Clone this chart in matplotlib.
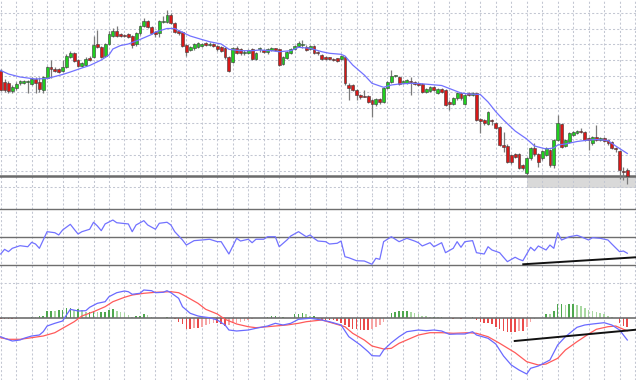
import numpy as np
import matplotlib
matplotlib.use("Agg")
import matplotlib.pyplot as plt
from matplotlib.patches import Rectangle

# ---------------- price candles (163 bars) ----------------
opens = [129, 118.5, 117, 109.3, 111.7, 116.7, 117.3, 118, 116, 121.5,
         118.3, 110.5, 122.5, 132.7, 131.5, 131, 129, 133, 143.5, 147,
         140.5, 134.5, 135.5, 141.7, 143, 156.2, 153.3, 144.5, 156.5, 164,
         169, 166, 165.5, 165.7, 164, 155.7, 166.7, 174, 179.3, 173.3,
         168.3, 166.7, 178.5, 178.3, 185, 177.3, 169, 168, 155, 150,
         151.7, 153.3, 154.5, 156.7, 155, 155.7, 154.5, 152.7, 152.3, 143,
         137.7, 152.3, 150.7, 147, 146.7, 150.7, 140.7, 151, 150, 147.7,
         150, 151.7, 150.7, 136, 141.7, 147.3, 150.7, 154, 155, 153.3,
         150.7, 154, 148.3, 145, 143.3, 142.7, 140.7, 141.7, 140.7, 143.3,
         115, 115, 110, 105, 104.5, 104, 100, 95.7, 101, 98,
         112, 118, 124, 123.3, 116.7, 117.3, 119, 118.3, 116.7, 116,
         108.3, 109.3, 112.7, 107, 110.7, 110, 98.5, 96, 101.7, 107.3,
         96, 106.7, 105, 106.7, 81, 80, 76, 80, 76.7, 73.3,
         55, 54.3, 45, 45.7, 45.7, 35, 26.7, 41.7, 51.7, 45.7,
         41.7, 45, 50, 35, 60, 75.7, 54.3, 58.3, 65, 66.7,
         69, 68.3, 61.7, 56.7, 63.3, 60, 61.7, 60, 57.7, 52.3,
         49, 29.5, 30]
highs = [131, 121.5, 119, 115, 118.3, 120, 120.5, 120, 123.5, 123,
         123.3, 124.3, 134.5, 140, 133.3, 132, 140, 146.5, 149, 148,
         141.5, 138.5, 143, 144, 164, 170, 154.5, 157.5, 169, 172.5,
         174, 167, 166.5, 167, 165, 168, 175, 181.7, 180.5, 174.5,
         169.5, 180.5, 184, 190, 187.3, 178.5, 170, 169, 156, 154.5,
         157, 158, 157.5, 158, 157.7, 157, 155.5, 153.7, 153.5, 144,
         153.3, 154, 152, 150, 151, 152, 148.5, 153.3, 151, 152,
         153.5, 152.5, 151.5, 144.5, 149.5, 152, 155.5, 159, 160, 155,
         155, 155, 149.5, 146, 144.5, 143.5, 142, 142.5, 145, 144.5,
         116.7, 116, 111, 106, 110, 105, 101.5, 102.5, 102, 113.5,
         119.5, 130.5, 125.5, 124.5, 120.5, 121, 123.3, 119.5, 118, 117,
         112, 114.5, 114, 112, 112, 111, 100, 103, 108.5, 108.5,
         106, 108, 108.5, 107.5, 82, 81, 89.5, 81.5, 78, 74.5,
         68.3, 56, 46, 47, 47, 36, 43.5, 53, 57, 47,
         50, 53, 51, 61, 85, 77, 61, 68, 69.5, 70,
         71.7, 69.5, 63.3, 64.5, 75, 63.5, 63, 61, 59, 53.5,
         50, 33.3, 31.7]
lows = [109, 108, 107, 107.5, 110, 115, 116, 106.7, 115, 107,
        108.5, 107, 121.5, 122, 128, 127, 128, 132, 142.5, 138.5,
        133, 133.5, 134.5, 139, 142, 152.5, 142.5, 143, 155.5, 163,
        163, 163, 163, 162.5, 151.7, 154.5, 165.5, 173, 172.5, 166,
        163.5, 163.5, 177.5, 177.5, 176.5, 167.5, 165.5, 153.5, 143.7, 149,
        150.5, 152.5, 153.5, 154, 154, 153, 149.5, 148.5, 140.7, 128,
        136.7, 146, 145.5, 145, 146, 139.7, 140, 148.3, 147.5, 146.5,
        149, 149, 134, 135, 141, 146.5, 150, 153, 151.7, 149,
        150, 146.5, 145.5, 139.7, 140, 140, 139, 138.5, 140, 115.5,
        100, 109, 100, 101.5, 103, 97, 83.5, 94.5, 96.5, 97,
        111, 117, 123, 115, 116, 116.5, 105, 115, 114.5, 107,
        107, 108, 109, 106, 107, 94, 90, 95, 100.5, 100.5,
        95, 104, 104, 79, 67, 75.5, 75, 75, 71, 54,
        48.3, 37, 36.5, 42, 31, 30.5, 25, 40.5, 44.5, 33.3,
        40.5, 44, 33.3, 31.7, 59, 52, 53.3, 57.5, 64, 66,
        67, 59, 50, 55.5, 59, 59, 58, 55.5, 51, 48,
        21, 20, 15.7]
closes = [110.5, 110, 109, 112.7, 116, 118.7, 119, 118.7, 121.5, 117.5,
          111, 123.3, 133.5, 131, 129.5, 128, 133.5, 144.5, 147, 139.5,
          134.5, 137, 141.5, 140, 155.5, 153.5, 143.5, 156.5, 166.5, 169,
          164, 164, 164, 163.5, 155.3, 166.7, 173.7, 179.3, 173.5, 167.3,
          166, 179.3, 179.2, 185, 177.5, 168.5, 166.7, 154.5, 148.5, 153.3,
          155.7, 156.7, 156.5, 155, 156.5, 154, 150.7, 149.5, 142.7, 129.3,
          151.7, 147.3, 146.7, 147.5, 150, 140.7, 147.3, 151.5, 148.3, 150.7,
          152.3, 150, 135, 143.3, 148.3, 150.7, 154, 157.3, 155.5, 150,
          154, 147.3, 146.7, 140.7, 140.7, 140.7, 140.3, 139.3, 144, 116.7,
          111.7, 110, 105, 102.7, 103.5, 98.3, 96, 101.5, 98, 112,
          118.5, 124.5, 124.5, 116, 119.3, 120, 118.5, 116, 115.3, 108.3,
          110.7, 113.3, 110, 110.7, 108.3, 95, 96, 101.7, 107.3, 101.7,
          105, 105, 107.3, 80, 79, 76.7, 88.3, 79, 72.3, 55,
          53.3, 38.3, 37.7, 43.3, 32.3, 31.7, 42.3, 51.7, 45.7, 38.3,
          49, 51.7, 35, 60, 76.7, 53.3, 60, 66.7, 68.3, 69,
          67.7, 60, 60, 63.3, 60, 62.3, 59, 56.7, 52.3, 51.5,
          30, 28.5, 24.3]

# moving average (blue line on price panel)
ma_idx = [0, 2, 5, 9, 12, 14, 16, 18, 21, 23, 26, 28, 29, 31, 33, 36, 39, 40, 43, 45,
          46, 49, 52, 54, 57, 59, 62, 65, 67, 70, 72, 75, 77, 80, 83, 85, 88, 89, 91, 94,
          96, 99, 101, 103, 106, 108, 111, 114, 116, 119, 121, 124, 126, 128, 130, 133, 136, 138, 141, 143,
          144, 146, 149, 152, 154, 157, 159, 162]
ma_val = [129.5, 126, 123, 121, 121.5, 123.5, 125.5, 128, 132, 134.5, 140, 145, 151, 154.5, 156, 160.5, 165.5, 168, 171.5, 171.5,
          169.5, 164, 160.5, 158.3, 156, 150.7, 149.3, 149.3, 150, 149.3, 148.3, 149.3, 152.7, 151.7, 148.3, 146.7, 145.7, 144, 135, 125,
          116.7, 112.7, 115, 116, 116.7, 116.5, 115.5, 114.5, 111.5, 107, 106, 105.5, 98, 88.3, 80, 69, 61, 54, 51, 52,
          55, 56, 58.5, 60, 60.5, 59.5, 54, 46.5]

support_level = 24.0
zone_start, zone_low, zone_high = 136, 12.3, 24.0

# ---------------- RSI ----------------
rsi_idx = [0, 1, 2, 3, 5, 7, 8, 9, 10, 12, 14, 15, 16, 18, 19, 20, 21, 23, 24, 25,
           26, 27, 29, 30, 33, 34, 35, 37, 38, 40, 41, 43, 44, 45, 47, 48, 50, 52, 54, 56,
           57, 59, 61, 62, 64, 65, 66, 68, 69, 71, 72, 74, 75, 77, 79, 80, 81, 82, 84, 85,
           87, 88, 89, 90, 92, 94, 96, 97, 98, 99, 101, 103, 105, 107, 108, 109, 111, 112, 114, 115,
           117, 118, 119, 120, 122, 123, 125, 126, 127, 129, 130, 131, 133, 134, 135, 137, 138, 139, 141, 142,
           143, 144, 145, 147, 149, 150, 152, 153, 155, 157, 158, 160, 161, 162]
rsi_val = [32.1, 37.1, 34.6, 38.2, 41, 39.9, 44.6, 42.8, 38.2, 56, 54.9, 52.5, 57.8, 63.9, 58.6, 53.5, 56, 58.6, 66.1, 62.1,
           57.1, 64.3, 68.5, 65.6, 64.3, 56, 63.2, 67.8, 63.2, 58.6, 65, 66.1, 63.2, 56, 47.1, 41.7, 46.4, 47.1, 47.9, 45.3,
           45.3, 32.1, 48.9, 46, 47.9, 44.2, 47.9, 47.9, 50.6, 50.6, 39.9, 47.1, 51.4, 56, 50.6, 52.5, 48.9, 46, 45.3, 42.8,
           43.6, 46, 29.2, 28.1, 24.9, 24.6, 21.1, 27.5, 26.4, 45.3, 50.6, 45.3, 48.9, 46, 44.2, 40.7, 44.2, 39.9, 44.2, 33.5,
           38.2, 45.3, 39.3, 45.3, 46.4, 33.5, 32.1, 39.9, 36.4, 33.5, 28.6, 23.9, 28.6, 26.4, 24.9, 39.3, 35.6, 40.7, 36.4, 41.7,
           38.2, 54.9, 47.1, 50.6, 52.1, 50.6, 47.1, 49.6, 48.9, 47.1, 42.8, 34.6, 35.3, 32.9]
rsi_levels = [80, 50, 20]
rsi_trend_idx = [135.1, 164.3]
rsi_trend_val = [21.1, 28.6]

# ---------------- MACD ----------------
macd_idx = [0, 1, 3, 5, 6, 8, 10, 11, 12, 14, 16, 17, 18, 20, 22, 23, 25, 27, 28, 30,
            32, 33, 34, 36, 37, 39, 40, 42, 43, 44, 46, 47, 49, 51, 52, 54, 56, 58, 59, 61,
            64, 66, 69, 71, 73, 75, 77, 80, 83, 85, 88, 90, 93, 95, 96, 98, 99, 101, 103, 105,
            108, 110, 112, 114, 116, 118, 120, 122, 123, 126, 128, 130, 132, 134, 136, 137, 139, 142, 144, 146,
            149, 151, 153, 156, 158, 160, 162]
macd_val = [-18.4, -20, -22.7, -21.7, -20, -17.7, -16.7, -13.4, -7.7, -5, -2.7, 3.3, 9, 7.3, 7.6, 11, 15, 16.6, 21.6, 25.6,
            27.3, 26.6, 24, 25, 28.3, 27.6, 25.6, 26, 27.6, 25.6, 20, 11.6, 5, 2.3, 1.6, 0.6, -1.7, -6.7, -11.7, -12.7,
            -11.7, -10, -7.7, -5, -6.7, -5, -1, 0, -1.7, -3.4, -6.7, -18.4, -26.7, -33.4, -37.4, -37.7, -31.7, -24.4, -18.4, -13.4,
            -11.7, -12.4, -11.7, -12.7, -16, -15.7, -15.7, -13.4, -16.7, -20, -25.7, -37.7, -46.7, -51.7, -55.7, -50, -47.7, -41.7, -26.7, -18.4,
            -9, -6.7, -5.7, -4.4, -6.7, -11.7, -21.7]
sig_idx = [0, 2, 5, 8, 11, 14, 16, 19, 21, 24, 27, 29, 32, 34, 37, 40, 42, 44, 46, 48,
           51, 53, 56, 58, 61, 64, 66, 69, 71, 74, 77, 79, 83, 86, 89, 91, 94, 96, 99, 101,
           103, 106, 108, 111, 114, 117, 121, 123, 126, 129, 133, 136, 139, 141, 144, 146, 149, 152, 154, 157,
           159, 161, 162]
sig_val = [-19.4, -21, -21, -19.4, -17.7, -14.4, -10, -3.4, 2.3, 6.6, 11.6, 16.6, 21, 23.3, 25, 26, 26.3, 26.6, 25.6, 21.6,
           15, 9, 4.3, -1, -5.7, -8.4, -9.4, -8.4, -7.7, -6.7, -5, -3.4, -1.7, -5, -8.4, -15, -21.7, -27.7, -30.7, -30,
           -25, -20, -16.7, -14.4, -14.4, -15, -14.4, -15, -18.4, -25, -34.4, -43.4, -46.7, -45.7, -40, -31.7, -23.4, -15.7, -11, -8.4,
           -7.7, -11, -12.4]
hist = [-0.7, -0.7, -1, -1, -0.7, 0, 0.3, 0.7, 1.7, 1,
        2, 2.7, 7.7, 7.7, 7.3, 8, 8.3, 10, 10, 8.3,
        9, 8.3, 6.7, 6.7, 7.7, 6.7, 6.7, 6.7, 8.3, 9,
        7.7, 6.7, 5.7, 3.3, 1.7, 2.3, 2.7, 4, 3.3, 1,
        0.7, 0.7, 0.7, 1, 0.3, -1, -3.3, -6, -11, -11,
        -10, -10, -8.3, -6.7, -5.7, -4.3, -5, -6, -7.7, -6.7,
        -5, -4.3, -3.3, -2.3, -1.7, -1, 0, 0, 0.3, 1.7,
        2.3, 2.3, 1, 1.7, 0.7, 0.7, 4, 4.3, 5, 4,
        2.7, 2.7, -1, -1.3, -1.7, -2, -2, -3, -4.3, -6.7,
        -8.3, -11, -11, -11.7, -11.7, -11.7, -11, -9, -6.7, -3.3,
        0.3, 5, 6, 7.3, 7.7, 7.7, 6.7, 5.7, 4, 2.7,
        2.3, 1.7, 1.7, 1, 1, 0.3, 0, -0.3, 0, -0.3,
        0.3, 0.3, 1.7, -1.7, -3.3, -5, -5, -5.7, -8.3, -11,
        -12.3, -13.3, -13.3, -13.3, -12.3, -12.3, -8.3, -3.3, -1, 0.3,
        0.7, 4.3, 4, 7.7, 14, 14, 13.3, 14, 14, 13.3,
        12.3, 10, 8.3, 7.7, 6.7, 5, 4.3, 2.3, 1.7, 0,
        -5, -7.7, -9]
macd_grid_level = 35
macd_trend_idx = [132.9, 164.3]
macd_trend_val = [-22.7, -11.4]

# ---------------- drawing ----------------
W, H = 636, 380
fig = plt.figure(figsize=(W / 100, H / 100), dpi=100)
fig.patch.set_facecolor("white")

XLIM = (-0.181, 164.25)
grid_kw = dict(color="#c3c7d2", linestyle=(0, (2, 2)), linewidth=0.75, zorder=0.5)
level_col = "#6e6e6e"
blue = "#7272ff"
vgrid = np.arange(0, 165, 4)

def setup(ax, ylim):
    ax.set_xlim(*XLIM)
    ax.set_ylim(*ylim)
    ax.axis("off")
    for xv in vgrid:
        ax.axvline(xv, **grid_kw)

# price panel: pixel rows 0..195
ax_p = fig.add_axes([0, 185 / H, 1, 195 / H])
setup(ax_p, (5, 200))
for yv in np.arange(187.3, 5, -15.82):
    ax_p.axhline(yv, **grid_kw)

ax_p.add_patch(Rectangle((zone_start, zone_low), XLIM[1] - zone_start + 1, zone_high - zone_low,
                         facecolor="#d9d9d9", edgecolor="none", zorder=0.3))
ax_p.axhline(support_level, color="#6a6a6a", linewidth=1.8, zorder=1)

idx = np.arange(len(closes))
o = np.array(opens); c = np.array(closes); hi = np.array(highs); lo = np.array(lows)
ax_p.vlines(idx, lo, hi, color="#7a7a7a", linewidth=0.9, zorder=2)
up = c >= o
bottom = np.minimum(o, c)
height = np.maximum(np.abs(c - o), 0.9)
cols = np.where(up, "#1fcf1f", "#d81818")
ax_p.bar(idx, height, bottom=bottom, width=0.74, color=cols,
         edgecolor="#3a3a3a", linewidth=0.4, zorder=3)
ax_p.plot(ma_idx, ma_val, color=blue, linewidth=0.9, zorder=4)

# RSI panel: pixel rows 195..280
ax_r = fig.add_axes([0, 100 / H, 1, 85 / H])
setup(ax_r, (4.25, 95.3))
for lv in rsi_levels:
    ax_r.axhline(lv, color=level_col, linewidth=1.0, zorder=1)
ax_r.plot(rsi_idx, rsi_val, color=blue, linewidth=0.9, zorder=3)
ax_r.plot(rsi_trend_idx, rsi_trend_val, color="#111111", linewidth=1.4, zorder=4)

# MACD panel: pixel rows 280..380
ax_m = fig.add_axes([0, 0, 1, 100 / H])
setup(ax_m, (-61.7, 38.3))
ax_m.axhline(macd_grid_level, **grid_kw)
hv = np.array(hist)
prev = np.concatenate([[0], hv[:-1]])
growing = np.abs(hv) >= np.abs(prev)
hcols = []
for v, g in zip(hv, growing):
    if v >= 0:
        hcols.append("#4fa84f" if g else "#a9d8a2")
    else:
        hcols.append("#ea4a4a" if g else "#f6a5a5")
ax_m.bar(idx, hv, width=0.42, color=hcols, zorder=2)
ax_m.axhline(0, color=level_col, linewidth=1.2, zorder=2.5)
ax_m.plot(sig_idx, sig_val, color="#ff5a5a", linewidth=0.9, zorder=3)
ax_m.plot(macd_idx, macd_val, color="#6a6aff", linewidth=0.9, zorder=3.5)
ax_m.plot(macd_trend_idx, macd_trend_val, color="#111111", linewidth=1.4, zorder=4)

fig.savefig("out.png", dpi=100, facecolor="white")
